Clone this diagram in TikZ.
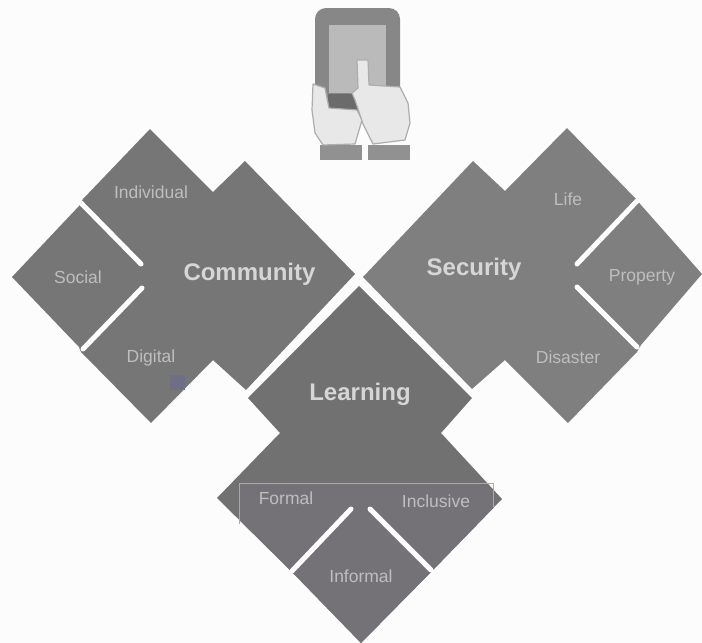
\documentclass[tikz,border=0pt]{standalone}
\usepackage{fontspec}
\setmainfont{Liberation Sans}
\definecolor{bg}{HTML}{FCFCFC}
\definecolor{commc}{HTML}{767676}
\definecolor{secc}{HTML}{7F7F7F}
\definecolor{learnc}{HTML}{717171}
\definecolor{lowc}{HTML}{757277}
\definecolor{txtc}{HTML}{D6D6D6}
\definecolor{smalltxt}{HTML}{BEBEBE}
\definecolor{frame}{HTML}{A9A9A9}
\definecolor{markc}{HTML}{6E6E86}
\tikzset{
  slit/.style={line width=5pt,draw=white,line cap=round},
  bigtxt/.style={text=txtc,font=\fontsize{24}{26}\selectfont\bfseries,inner sep=0pt},
  smalltext/.style={text=smalltxt,font=\fontsize{17.5}{20}\selectfont,inner sep=0pt},
  hand/.style={fill=black!9,draw=black!32,line width=1.2pt,line join=round},
  cuff/.style={fill=black!43,draw=none}
}
\begin{document}
\begin{tikzpicture}[x=1pt,y=-1pt]
\useasboundingbox (0,0) rectangle (702,643);
\fill[bg] (0,0) rectangle (702,643);
% Community
\fill[commc] (150,129) -- (213,192) -- (245,161) -- (355,274) -- (246,390) -- (213,360) -- (151,423) -- (81,352) -- (79,347) -- (12,277) -- (79,206) -- (83,199) -- cycle;
\draw[slit] (81,203) -- (141,264);
\draw[slit] (83,349) -- (142,288);
% Security
\fill[secc] (363,277) -- (473,161) -- (505,191) -- (567,128) -- (636,199) -- (641,205) -- (702,274) -- (641,345) -- (637,352) -- (568,423) -- (505,360) -- (472,389) -- cycle;
\draw[slit] (637,201) -- (577,264);
\draw[slit] (577,287) -- (637,347);
% Learning
\fill[learnc] (359,286) -- (472,398) -- (441,433) -- (502,499) -- (433,570) -- (361,643) -- (293,573) -- (289,569) -- (217,498) -- (280,433) -- (248,398) -- cycle;
\begin{scope}
\clip (239,483) rectangle (493,643);
\fill[lowc] (217,498) -- (289,569) -- (293,573) -- (361,643) -- (433,570) -- (502,499) -- (480,483) -- (240,483) -- cycle;
\end{scope}
\draw[slit] (292,571) -- (351,509);
\draw[slit] (370,509) -- (431,570);
\draw[frame,line width=0.8pt] (239,524) -- (239,483) -- (493,483) -- (493,507);
% scan mark
\fill[markc] (170,375) rectangle (185,390);
% tablet
\fill[black!47,rounded corners=11pt] (315,8) rectangle (400,110);
\fill[black!27] (329,25) rectangle (386,93);
\fill[black!58] (328,94) rectangle (358,110);
\fill[cuff] (320,145) rectangle (362,160);
\fill[cuff] (368,145) rectangle (410,160);
\draw[hand] (313,84) -- (325,88) -- (329,108) -- (357,110) -- (362,120) -- (355,144) -- (323,145) -- (315,133) -- (312,110) -- cycle;
\draw[hand] (357,60) -- (368,60) -- (369,85) -- (400,87) -- (408,103) -- (410,123) -- (405,140) -- (373,144) -- (363,124) -- (355,100) -- (352,93) -- (358,88) -- cycle;
% labels
\node[bigtxt] (community) at (249.5,274) {Community};
\node[bigtxt] (security) at (474,269) {Security};
\node[bigtxt] (learning) at (360,394) {Learning};
\node[smalltext] (individual) at (151,192) {Individual};
\node[smalltext] (social) at (78,277) {Social};
\node[smalltext] (digital) at (151,358) {Digital};
\node[smalltext] (life) at (568,199) {Life};
\node[smalltext] (property) at (642,277) {Property};
\node[smalltext] (disaster) at (568,357) {Disaster};
\node[smalltext] (formal) at (286,498) {Formal};
\node[smalltext] (inclusive) at (436,501) {Inclusive};
\node[smalltext] (informal) at (361,576) {Informal};
\end{tikzpicture}
\end{document}
